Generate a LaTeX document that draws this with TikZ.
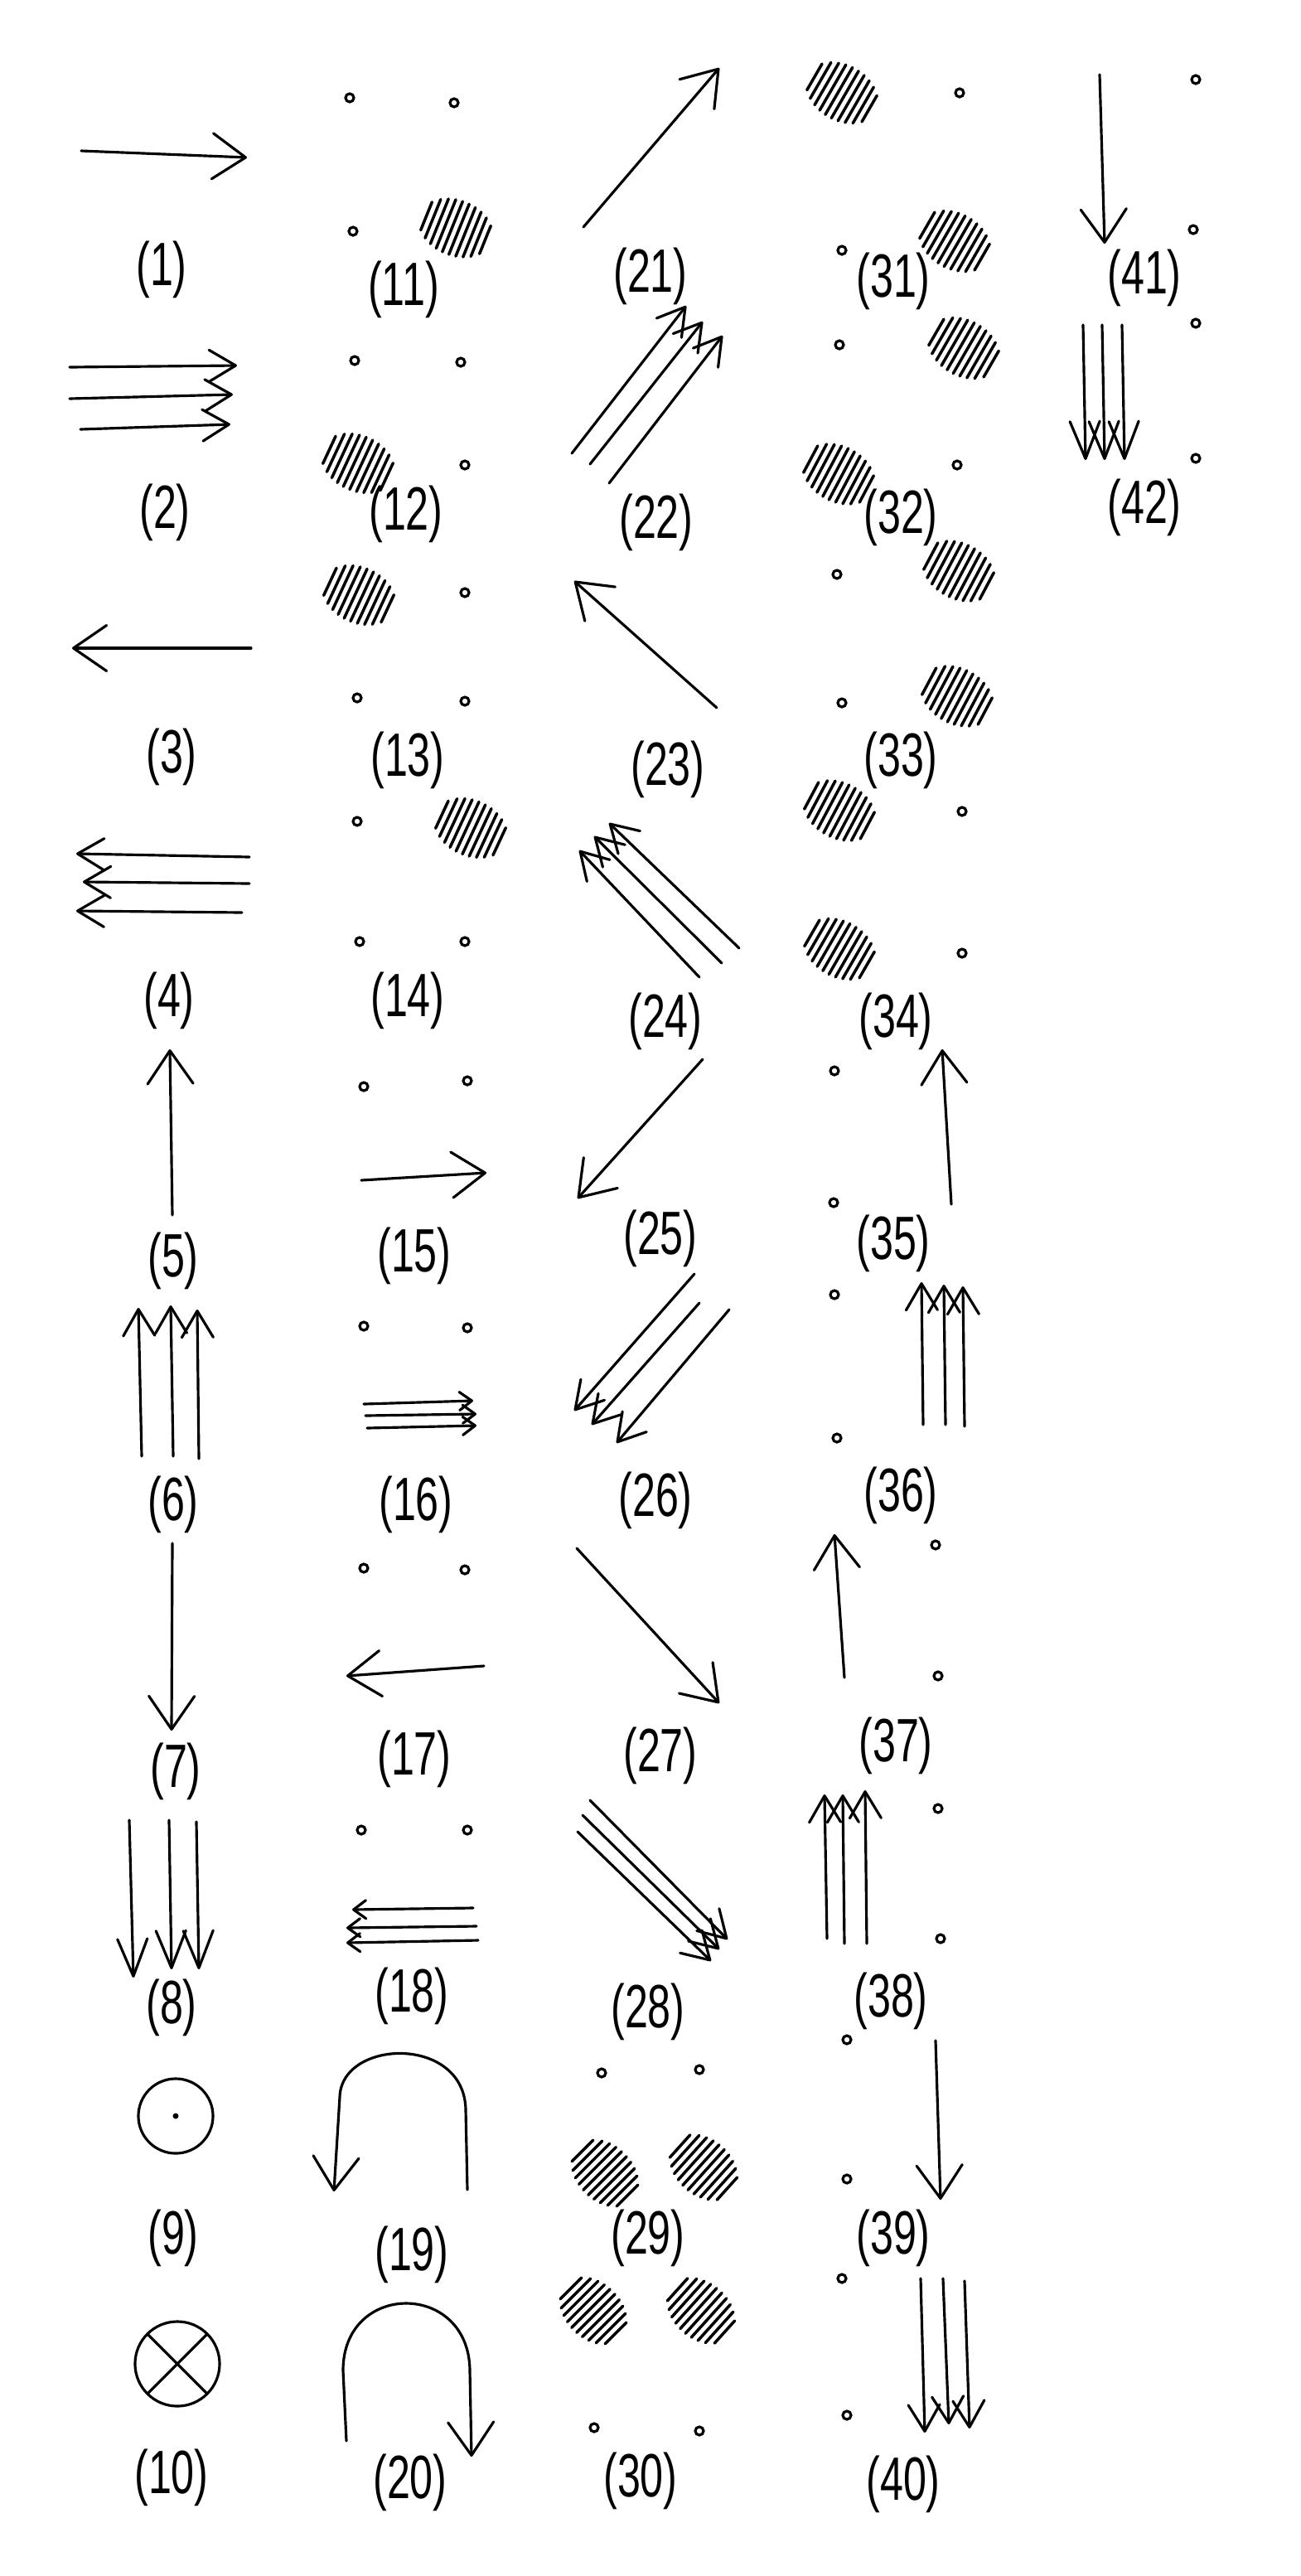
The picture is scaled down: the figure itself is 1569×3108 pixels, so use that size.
\documentclass[tikz,border=0pt]{standalone}
\usepackage{fontspec}
\newfontfamily\labfont{Liberation Sans}[FakeStretch=0.68]
\usetikzlibrary{arrows.meta}

\newcommand{\hatchblob}[3]{%
  \begin{scope}[shift={(#1,#2)},rotate=#3]
    \foreach \i in {-4.5,-3.5,...,4.5} {
      \pgfmathsetmacro{\hl}{33*sqrt(1-(\i/5.4)^2)}
      \draw[hatchln] (\i*8.5,-\hl) -- (\i*8.5,\hl);
    }
  \end{scope}}

\begin{document}
\begin{tikzpicture}[x=0.01cm, y=-0.01cm,
    sym/.style={line width=0.9pt, line cap=round, line join=round},
    arr/.style={sym, -{Straight Barb[length=0.4cm,width=0.55cm,round]}},
    tri/.style={sym, -{Straight Barb[length=0.32cm,width=0.38cm,round]}},
    trl/.style={sym, -{Straight Barb[length=0.45cm,width=0.36cm,round]}},
    trs/.style={sym, -{Straight Barb[length=0.15cm,width=0.22cm,round]}},
    spot/.style={line width=0.9pt},
    hatchln/.style={line width=1pt, line cap=round},
    lbl/.style={font=\labfont\fontsize{21}{23}\selectfont, inner sep=0pt}
]
\useasboundingbox (0,0) rectangle (1569,3108);

\foreach \n/\x/\y in {1/195/325, 2/199/618, 3/207/913, 4/204/1207, 5/209/1521,
    6/209/1815, 7/212/2137, 8/207/2422, 9/209/2700, 10/207/2989,
    11/487/349, 12/490/620, 13/492/917, 14/492/1207, 15/500/1515,
    16/502/1815, 17/500/2122, 18/497/2408, 19/497/2720, 20/495/2995,
    21/785/333, 22/792/630, 23/806/928, 24/803/1232, 25/797/1494,
    26/791/1810, 27/797/2118, 28/782/2427, 29/782/2700, 30/773/2993,
    31/1078/339, 32/1087/624, 33/1087/917, 34/1081/1232, 35/1078/1500,
    36/1087/1804, 37/1081/2106, 38/1075/2414, 39/1078/2700, 40/1090/2997,
    41/1381/335, 42/1381/612}
  \node[lbl] (l\n) at (\x,\y) {(\n)};

\foreach \x/\y in {422/118, 548/124, 426/279, 428/435, 556/437, 561/561,
    561/715, 431/842, 561/846, 431/991, 434/1136, 561/1136,
    439/1311, 564/1304, 439/1600, 564/1602, 439/1892, 561/1894,
    436/2208, 564/2208, 726/2501, 844/2497, 717/2929, 844/2933,
    1158/112, 1016/302, 1013/416, 1155/561, 1010/693, 1016/848,
    1161/979, 1161/1150, 1007/1292, 1006/1451, 1007/1562, 1010/1735,
    1129/1864, 1132/2022, 1132/2182, 1135/2339, 1022/2461, 1022/2629,
    1016/2749, 1022/2914, 1443/96, 1440/277, 1443/390, 1443/553}
  \draw[spot] (\x,\y) circle (0.05cm);

\foreach \x/\y/\r in {550/275/-22, 432/559/-25, 433/718/-25, 568/999/-25,
    730/2622/-45, 849/2615/-42, 716/2788/-45, 846/2788/-42,
    1016/112/-30, 1152/291/-30, 1163/420/-30, 1012/572/-28,
    1157/689/-28, 1155/840/-28, 1013/978/-28, 1013/1145/-30}
  {\hatchblob{\x}{\y}{\r}}

\draw[arr] (98,182) -- (298,190);
\draw[tri] (84,443) -- (286,441);
\draw[tri] (84,481) -- (281,476);
\draw[tri] (97,518) -- (278,512);
\draw[arr] (303,782) -- (87,782);
\draw[tri] (301,1034) -- (92,1030);
\draw[tri] (301,1066) -- (100,1064);
\draw[tri] (292,1101) -- (92,1099);
\draw[arr] (208,1466) -- (205,1266);
\draw[tri] (171,1757) -- (167,1578);
\draw[tri] (209,1757) -- (206,1575);
\draw[tri] (240,1760) -- (238,1580);
\draw[arr] (208,1862) -- (207,2088);
\draw[trl] (156,2196) -- (161,2386);
\draw[trl] (204,2196) -- (207,2376);
\draw[trl] (237,2198) -- (240,2376);
\draw[sym] (212,2553) circle (0.45cm);
\fill (212,2553) circle (0.035cm);
\draw[sym] (214,2852) circle (0.51cm);
\draw[sym] ([shift={(135:0.51cm)}]214,2852) -- ([shift={(-45:0.51cm)}]214,2852);
\draw[sym] ([shift={(45:0.51cm)}]214,2852) -- ([shift={(225:0.51cm)}]214,2852);

\draw[arr] (436,1424) -- (587,1415);
\draw[trs] (439,1694) -- (571,1690);
\draw[trs] (441,1708) -- (575,1706);
\draw[trs] (443,1723) -- (575,1720);
\draw[arr] (584,2010) -- (418,2022);
\draw[trs] (571,2302) -- (425,2304);
\draw[trs] (575,2324) -- (418,2326);
\draw[trs] (577,2341) -- (418,2344);
\draw[arr] (564,2642) -- (562,2545) .. controls (560,2455) and (412,2460) .. (410,2530) -- (403,2644);
\draw[arr] (418,2945) -- (414,2860) .. controls (414,2752) and (566,2752) .. (567,2860) -- (569,2964);

\draw[arr] (704,274) -- (868,82);
\draw[tri] (690,547) -- (828,369);
\draw[tri] (712,560) -- (848,388);
\draw[tri] (735,583) -- (872,405);
\draw[arr] (865,854) -- (693,701);
\draw[tri] (844,1179) -- (699,1026);
\draw[tri] (871,1162) -- (717,1009);
\draw[tri] (892,1144) -- (735,993);
\draw[arr] (848,1278) -- (697,1446);
\draw[tri] (838,1537) -- (693,1702);
\draw[tri] (844,1572) -- (714,1719);
\draw[tri] (880,1580) -- (744,1741);
\draw[arr] (696,1868) -- (868,2055);
\draw[tri] (712,2172) -- (878,2340);
\draw[tri] (703,2190) -- (868,2352);
\draw[tri] (697,2210) -- (858,2366);

\draw[arr] (1148,1453) -- (1137,1266);
\draw[tri] (1114,1719) -- (1112,1547);
\draw[tri] (1141,1719) -- (1139,1550);
\draw[tri] (1164,1721) -- (1162,1552);
\draw[arr] (1019,2024) -- (1007,1851);
\draw[tri] (998,2339) -- (995,2165);
\draw[tri] (1019,2345) -- (1017,2165);
\draw[tri] (1046,2345) -- (1044,2160);
\draw[arr] (1129,2462) -- (1135,2654);
\draw[tri] (1111,2749) -- (1116,2935);
\draw[tri] (1138,2749) -- (1145,2925);
\draw[tri] (1164,2752) -- (1170,2930);

\draw[arr] (1327,90) -- (1333,294);
\draw[trl] (1307,392) -- (1310,555);
\draw[trl] (1330,392) -- (1333,555);
\draw[trl] (1354,392) -- (1357,555);
\end{tikzpicture}
\end{document}
